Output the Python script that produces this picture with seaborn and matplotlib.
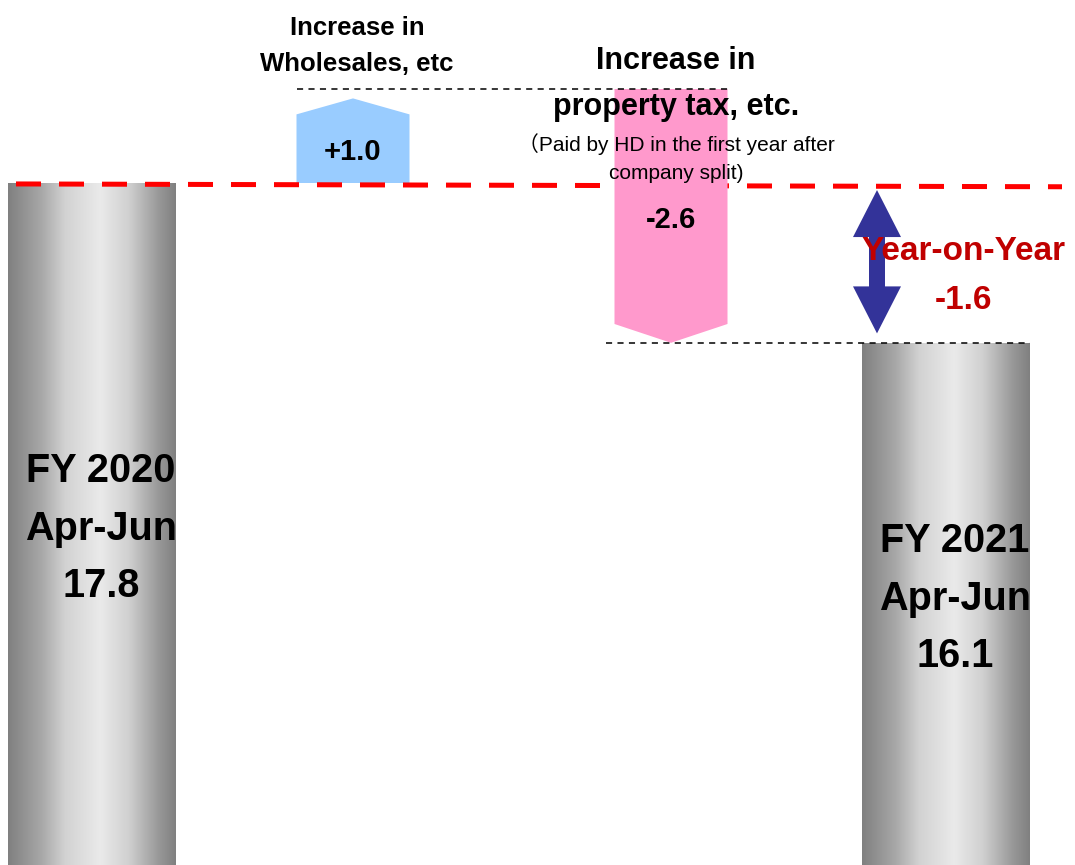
import numpy as np
import pandas as pd
import matplotlib
matplotlib.use("Agg")
import matplotlib.pyplot as plt
from matplotlib.patches import Polygon
from matplotlib.colors import LinearSegmentedColormap
import seaborn as sns

# values (bn yen)
period_labels = ["FY 2020\nApr-Jun", "FY 2021\nApr-Jun"]
period_values = [17.8, 16.1]
delta_labels = ["Increase in\nWholesales, etc", "Increase in\nproperty tax, etc."]
delta_values = [1.0, -2.6]
delta_note = "（Paid by HD in the first year after\ncompany split)"
yoy_label = "Year-on-Year"
yoy_value = -1.6

# layout, x in pixel-like units
total_x = [92, 946]
delta_x = [353, 671]
total_w = 168
delta_w = 113
px_per_unit = 94.0
y_top = period_values[0] + 183 / px_per_unit
y_bot = period_values[0] - 682 / px_per_unit

def y_px(p):
    return y_top - p / px_per_unit

sns.set_theme(style="white")
plt.rcParams["font.family"] = ["Liberation Sans", "DejaVu Sans"]
plt.rcParams["text.color"] = "black"
bold_font = ["Liberation Sans", "DejaVu Sans"]
note_font = ["Liberation Sans", "Noto Sans CJK JP", "DejaVu Sans"]

fig = plt.figure(figsize=(10.75, 8.65), dpi=100)
ax = fig.add_axes([0, 0, 1, 1])

df = pd.DataFrame({"x": total_x, "value": period_values})
sns.barplot(data=df, x="x", y="value", native_scale=True, color="grey",
            width=total_w / (total_x[1] - total_x[0]), errorbar=None, ax=ax, zorder=1)

# cylinder-like grey gradient inside the total bars
cyl = LinearSegmentedColormap.from_list(
    "cyl", [(0, "#808080"), (0.2, "#a8a8a8"), (0.34, "#d2d2d2"), (0.55, "#eaeaea"),
            (0.72, "#d0d0d0"), (0.9, "#989898"), (1, "#808080")])
grad = np.linspace(0, 1, 256)[None, :]
for patch in list(ax.patches):
    x0, w, h = patch.get_x(), patch.get_width(), patch.get_height()
    im = ax.imshow(grad, cmap=cyl, extent=[x0, x0 + w, y_bot - 1, h], aspect="auto", zorder=1)
    im.set_clip_path(patch)
    patch.set_facecolor("none")
    patch.set_edgecolor("none")

# delta arrows
arrow_colors = ["#99ccff", "#ff99cc"]
arrow_z = [2, 4]
level = period_values[0]
shift = 0.1
for i, (v, cx) in enumerate(zip(delta_values, delta_x)):
    start, end = level, level + v
    tip = end - shift
    l, r = cx - delta_w / 2, cx + delta_w / 2
    if v > 0:
        sh = tip - 0.17
    else:
        sh = tip + 0.2
    poly = Polygon([(l, start), (l, sh), (cx, tip), (r, sh), (r, start)], closed=True,
                   facecolor=arrow_colors[i], edgecolor="none", zorder=arrow_z[i])
    ax.add_patch(poly)
    level = end

# connector lines
top_level = period_values[0] + delta_values[0]
ax.plot([delta_x[0] - delta_w / 2, delta_x[1] + delta_w / 2], [top_level, top_level],
        color="black", lw=1.1, ls=(0, (4, 3.5)), zorder=5)
ax.plot([delta_x[1] - delta_w / 2 - 9, total_x[1] + total_w / 2], [period_values[1]] * 2,
        color="black", lw=1.1, ls=(0, (4, 3.5)), zorder=5)
ax.plot([16, 1062], [period_values[0] - 0.01, period_values[0] - 0.04],
        color="#ff0000", lw=3.6, ls=(0, (5, 3.6)), zorder=3, solid_capstyle="butt")

# year-on-year double arrow
ax_x = 877
yt, yb = period_values[0] - 0.075, period_values[1] + 0.1
hl, hw, sw = 0.5, 24, 8
dbl = Polygon([(ax_x, yt), (ax_x + hw, yt - hl), (ax_x + sw, yt - hl), (ax_x + sw, yb + hl),
               (ax_x + hw, yb + hl), (ax_x, yb), (ax_x - hw, yb + hl), (ax_x - sw, yb + hl),
               (ax_x - sw, yt - hl), (ax_x - hw, yt - hl)], closed=True,
              facecolor="#333399", edgecolor="none", zorder=4)
ax.add_patch(dbl)

# texts
for lab, v, cx, py in zip(period_labels, period_values, total_x, [529, 599]):
    ax.text(cx + 9, y_px(py), f"{lab}\n{v:.1f}", ha="center", va="center", fontsize=28.5,
            fontweight="bold", family=bold_font, linespacing=1.65, color="black", zorder=6)

ax.text(357, y_px(46), delta_labels[0], ha="center", va="center", fontsize=18.5,
        fontweight="bold", family=bold_font, linespacing=1.6, color="black", zorder=6)
ax.text(676, y_px(84), delta_labels[1], ha="center", va="center", fontsize=22,
        fontweight="bold", family=bold_font, linespacing=1.7, color="black", zorder=6)
ax.text(676, y_px(158), delta_note, ha="center", va="center", fontsize=15,
        family=note_font, linespacing=1.55, color="black", zorder=6)
for v, cx, py in zip(delta_values, delta_x, [152, 220]):
    ax.text(cx, y_px(py), f"{v:+.1f}", ha="center", va="center", fontsize=21,
            fontweight="bold", family=bold_font, color="black", zorder=6)

ax.text(963, y_px(276), f"{yoy_label}\n{yoy_value:.1f}", ha="center", va="center",
        fontsize=24, fontweight="bold", color="#c00000", family=bold_font,
        linespacing=1.78, zorder=6)

ax.set_xlim(0, 1075)
ax.set_ylim(y_bot, y_top)
ax.axis("off")
fig.savefig("out.png", dpi=100, facecolor="white")
